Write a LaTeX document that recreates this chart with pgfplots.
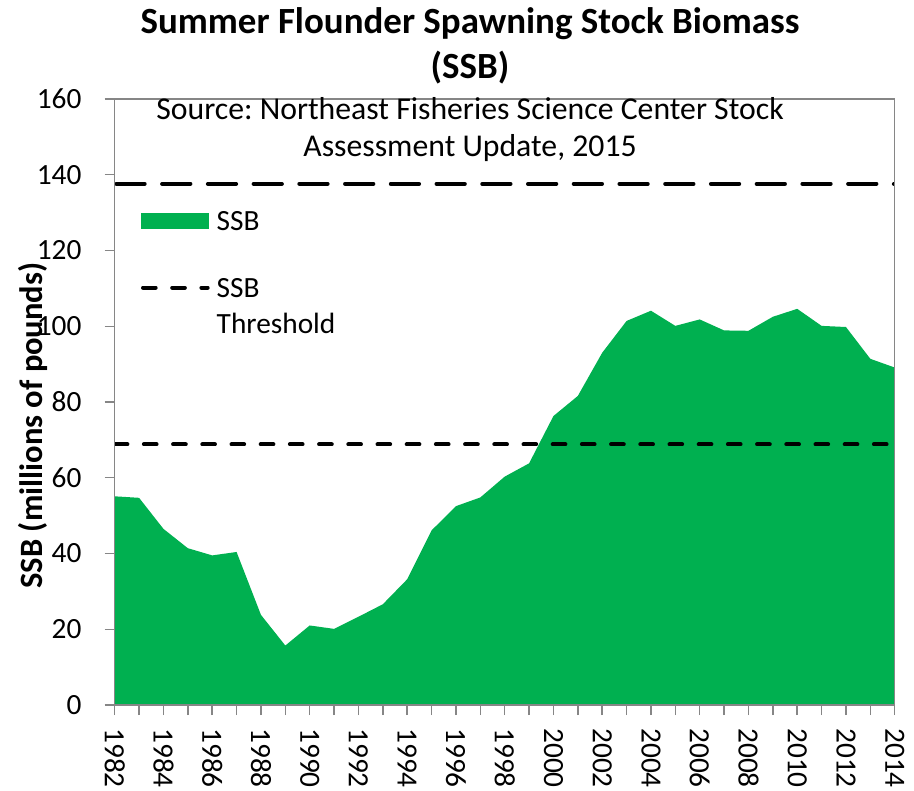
\documentclass[border=0pt]{standalone}
\usepackage{pgfplots}
\pgfplotsset{compat=1.18}
\usepackage{fontspec}
\setmainfont{Carlito}
\definecolor{ssbgreen}{HTML}{00B050}
\definecolor{axgray}{HTML}{868686}
\newcommand{\lgstrut}{\rule[-8.25pt]{0pt}{26.25pt}}
\newcommand{\lgstrutb}{\rule[-8.25pt]{0pt}{27pt}}
\begin{document}
\frenchspacing
\begin{tikzpicture}
\begin{axis}[
  scale only axis,
  width=585pt, height=454.5pt,
  xmin=1982, xmax=2014, ymin=0, ymax=160,
  axis on top,
  axis line style={axgray, line width=1.1pt},
  xtick={1982,1984,...,2014},
  minor xtick={1983,1985,...,2013},
  ytick={0,20,...,160},
  tick align=outside,
  tick pos=left,
  major tick length=7.5pt, minor tick length=7.5pt,
  every tick/.style={axgray, line width=1.1pt},
  minor tick style={axgray, line width=1.1pt},
  major tick style={axgray, line width=1.1pt},
  /pgf/number format/assume math mode=true,
  ticklabel style={font=\fontsize{22}{26}\selectfont},
  x tick label style={rotate=-90, anchor=west, inner sep=0pt, /pgf/number format/1000 sep={}},
  xticklabel shift=9.75pt,
  y tick label style={anchor=east, inner sep=0pt},
  yticklabel shift=17.25pt,
  legend style={at={(0.03372,0.8234)}, anchor=north west, draw=none, fill=none,
    inner sep=0pt, outer sep=0pt, row sep=31.15pt,
    cells={anchor=base west},
    nodes={inner sep=0pt, outer sep=0pt},
    font=\fontsize{22}{26.25}\selectfont},
]
\addplot[fill=ssbgreen, draw=none,
  legend image code/.code={\path[draw=none,fill=none] (0pt,0pt) rectangle (56.8pt,0pt); \fill[ssbgreen, draw=none] (0pt,0.75pt) rectangle (51pt,12.75pt);}]
coordinates {
(1982,55.1) (1983,54.7) (1984,46.5) (1985,41.4) (1986,39.5) (1987,40.4)
(1988,23.8) (1989,15.7) (1990,21.0) (1991,20.1) (1992,23.3) (1993,26.6)
(1994,33.2) (1995,46.1) (1996,52.5) (1997,54.8) (1998,60.3) (1999,63.8)
(2000,76.3) (2001,81.6) (2002,93.0) (2003,101.4) (2004,104.1) (2005,100.1)
(2006,101.8) (2007,98.9) (2008,98.8) (2009,102.5) (2010,104.6) (2011,100.1)
(2012,99.8) (2013,91.4) (2014,89.1)
} \closedcycle;
\addlegendentry{\vtop{\offinterlineskip\hbox{\lgstrut SSB}}}
\addplot[black, line width=3pt, line cap=round, dash pattern=on 9.5pt off 12.4pt,
  legend image code/.code={\path[draw=none,fill=none] (0pt,0pt) rectangle (56.8pt,0pt); \draw[black, line width=3pt, line cap=round, dash pattern=on 9.5pt off 12.4pt] (1.5pt,7.5pt) -- (50pt,7.5pt);}]
coordinates {(1982,68.8) (2014,68.8)};
\addlegendentry{\vtop{\offinterlineskip\hbox{\lgstrut SSB}\hbox{\lgstrutb Threshold}}}
\addplot[forget plot, black, line width=3pt, line cap=round, dash pattern=on 21.2pt off 13.1pt]
coordinates {(1982.07,137.6) (2014,137.6)};
\end{axis}
\node[anchor=base, font=\fontsize{27.7}{33}\selectfont\bfseries] at (266.5pt,503.8pt) {Summer Flounder Spawning Stock Biomass};
\node[anchor=base, font=\fontsize{27.7}{33}\selectfont\bfseries] at (266.5pt,469.6pt) {(SSB)};
\node[anchor=base, font=\fontsize{23.8}{29}\selectfont] at (266.5pt,438.75pt) {Source: Northeast Fisheries Science Center Stock};
\node[anchor=base, font=\fontsize{23.8}{29}\selectfont] at (266.5pt,411.2pt) {Assessment Update, 2015};
\node[rotate=90, anchor=center, inner sep=0pt, font=\fontsize{24.4}{29}\selectfont\bfseries] at (-61.3pt,209.6pt) {SSB (millions of pounds)};
\pgfresetboundingbox
\useasboundingbox (-86.025pt,-63.75pt) rectangle (599.475pt,528.75pt);
\end{tikzpicture}
\end{document}
